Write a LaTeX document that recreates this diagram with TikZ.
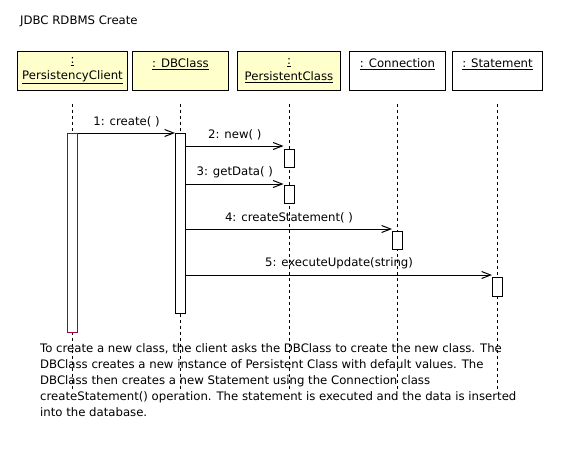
\documentclass[tikz,border=0pt]{standalone}
\usepackage{fontspec}
\setmainfont{DejaVu Sans}
\usetikzlibrary{positioning,arrows.meta}
\definecolor{objYellow}{RGB}{255,255,204}
\definecolor{actRed}{RGB}{160,0,64}
\tikzstyle{ObjBox}=[draw=black, line width=1pt, minimum height=39pt, inner sep=2pt, align=center, font=\fontsize{11.7}{16}\selectfont]
\tikzstyle{ActBox}=[draw=black, fill=white, line width=1pt, minimum width=10pt, inner sep=0pt, anchor=north]
\tikzstyle{LifeLine}=[line width=1pt, dash pattern=on 3pt off 3pt]
\tikzstyle{Msg}=[line width=1pt, -{Straight Barb[length=9pt,width=7pt]}]
\tikzstyle{MsgLabel}=[above=2pt, font=\fontsize{11.7}{13}\selectfont]

\begin{document}
\begin{tikzpicture}[x=1pt, y=-1pt, node distance={4pt}]
      \useasboundingbox (0,0) rectangle (571,475);
      \node[anchor=west, inner sep=0pt, font=\fontsize{11.7}{13}\selectfont] (title) at (20,21) {JDBC RDBMS Create};
      % objects
      \node[ObjBox, fill=objYellow, minimum width=110pt, anchor=north west] (c1) at (17,51) {\underline{:}\\\underline{PersistencyClient}};
      \node[ObjBox, fill=objYellow, minimum width=96pt, right=4pt of c1] (c2) {\underline{: DBClass}\\\mbox{}};
      \node[ObjBox, fill=objYellow, minimum width=103pt, right=8pt of c2] (c3) {\underline{:}\\\underline{PersistentClass}};
      \node[ObjBox, minimum width=96pt, right=8pt of c3] (c4) {\underline{: Connection}\\\mbox{}};
      \node[ObjBox, minimum width=90pt, right=6pt of c4] (c5) {\underline{: Statement}\\\mbox{}};
      % lifelines
      \coordinate (lifeEnd) at (0,390);
      \foreach \c in {c1,c2,c3,c4,c5}
        \draw[LifeLine] ([yshift=-13pt]\c.south) -- (\c.south |- lifeEnd);
      % activations
      \node[ActBox, draw=actRed, minimum height=199pt] (clientAct) at (c1.south |- 0,133) {};
      \node[ActBox, minimum height=180pt] (dbAct) at (c2.south |- 0,133) {};
      \node[ActBox, minimum height=18pt] (pAct1) at (c3.south |- 0,149) {};
      \node[ActBox, minimum height=18pt] (pAct2) at (c3.south |- 0,185) {};
      \node[ActBox, minimum height=18pt] (connAct) at (c4.south |- 0,231) {};
      \node[ActBox, minimum height=19pt] (stmtAct) at (c5.south |- 0,277) {};
      % messages
      \coordinate (m2) at ([yshift=3pt]pAct1.north west);
      \coordinate (m3) at ([yshift=1pt]pAct2.north west);
      \coordinate (m4) at ([yshift=2pt]connAct.north west);
      \coordinate (m5) at ([yshift=2pt]stmtAct.north west);
      \draw[Msg] (clientAct.north east) -- node[MsgLabel] {1: create( )} (dbAct.north west);
      \draw[Msg] (dbAct.east |- m2) -- node[MsgLabel] {2: new( )} (m2);
      \draw[Msg] (dbAct.east |- m3) -- node[MsgLabel] {3: getData( )} (m3);
      \draw[Msg] (dbAct.east |- m4) -- node[MsgLabel] {4: createStatement( )} (m4);
      \draw[Msg] (dbAct.east |- m5) -- node[MsgLabel] {5: executeUpdate(string)} (m5);
      % description
      \node[anchor=north west, align=left, inner sep=0pt, font=\fontsize{11.7}{16}\selectfont] (desc) at (40,343) {To create a new class, the client asks the DBClass to create the new class. The\\DBClass creates a new instance of Persistent Class with default values. The\\DBClass then creates a new Statement using the Connection class\\createStatement() operation. The statement is executed and the data is inserted\\into the database.};
    \end{tikzpicture}
\end{document}
